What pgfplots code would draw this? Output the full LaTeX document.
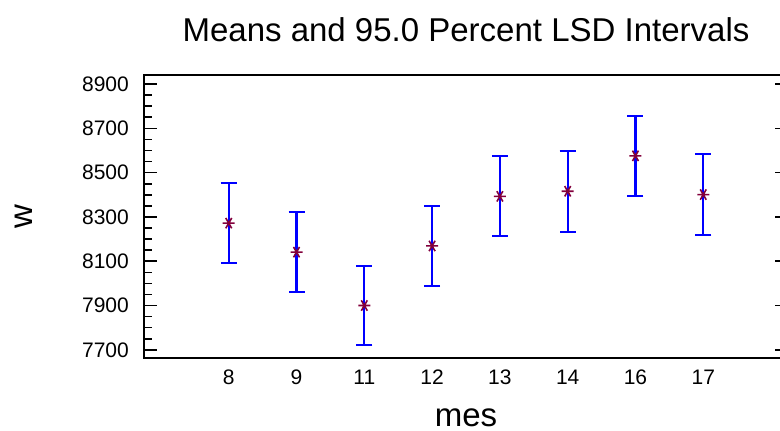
\documentclass[border=0pt]{standalone}
\usepackage{fontspec}
\setmainfont{Liberation Sans}
\usepackage{pgfplots}
\pgfplotsset{compat=1.18}
\definecolor{mk}{RGB}{130,0,60}
\begin{document}
\begin{tikzpicture}
\useasboundingbox (0,0) rectangle (780pt,431pt);
\begin{axis}[
  at={(144pt,73pt)}, anchor=south west,
  scale only axis, width=644pt, height=283pt,
  xmin=-1.25, xmax=8.25, ymin=7663, ymax=8941,
  xtick={0,1,2,3,4,5,6,7},
  xticklabels={8,9,11,12,13,14,16,17},
  ytick={7700,7900,8100,8300,8500,8700,8900},
  minor y tick num=3,
  tick align=inside,
  major tick length=13pt, minor tick length=8pt,
  every tick/.style={line width=1.6pt, black},
  xtick style={draw=none},
  axis line style={line width=2.4pt},
  /pgf/number format/assume math mode=true,
  /pgf/number format/1000 sep={},
  yticklabel style={font=\fontsize{21}{25}\selectfont, inner sep=0pt, anchor=east, xshift=-15pt},
  xticklabel style={font=\fontsize{21}{25}\selectfont, inner sep=0pt, anchor=north, yshift=-12pt},
  title={Means and 95.0 Percent LSD Intervals},
  title style={font=\fontsize{33}{39}\selectfont, at={(axis description cs:0.5,1)}, anchor=base, yshift=27pt, inner sep=0pt},
  xlabel={mes},
  xlabel style={font=\fontsize{33}{39}\selectfont, at={(axis description cs:0.5,0)}, anchor=base, yshift=-69pt, inner sep=0pt},
  ylabel={w},
  ylabel style={font=\fontsize{33}{39}\selectfont, at={(axis description cs:-0.1739,0.5)}, anchor=base, inner sep=0pt},
]
\addplot[only marks, mark=asterisk, mark size=6pt, mark options={rotate=90, line width=1.6pt, draw=mk},
  error bars/.cd, y dir=both, y explicit,
  error bar style={line width=2.1pt, draw=blue},
  error mark options={rotate=90, mark size=8pt, line width=2.1pt, draw=blue}]
table[x=x, y=y, y error=e] {
x y e
0 8272 181
1 8141 181
2 7900 180
3 8169 182
4 8393 181
5 8416 182
6 8576 181
7 8401 182
};
\end{axis}
\end{tikzpicture}
\end{document}
